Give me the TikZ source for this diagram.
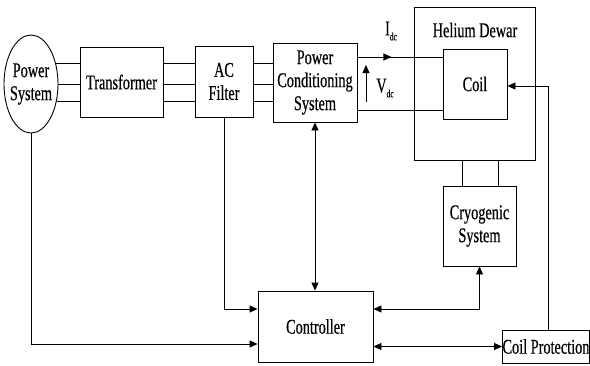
\documentclass[tikz,border=0pt]{standalone}
\usepackage{fontspec}
\setmainfont[FakeStretch=0.68,FakeBold=0.4]{Liberation Serif}
\usetikzlibrary{arrows.meta,shapes.geometric,decorations.markings,calc}

\begin{document}
\begin{tikzpicture}[x=1pt,y=-1pt,line width=0.9pt,
   >={Triangle[length=8pt,width=7pt]},
   blk/.style={draw,rectangle,inner sep=0pt,align=center,font=\fontsize{21}{23}\selectfont},
   lbl/.style={inner sep=0pt,font=\fontsize{21}{23}\selectfont},
   midarrow/.style={postaction={decorate},decoration={markings,mark=at position 0.4 with {\arrow{>}}}}]
   \useasboundingbox (0,0) rectangle (590,365);

   \node[blk,ellipse,inner xsep=-5pt,minimum width=54pt,minimum height=98pt] (ps) at (31,84) {Power\\System};
   \node[blk,minimum width=83pt,minimum height=70pt] (tr) at (121.5,82) {Transformer};
   \node[blk,minimum width=58pt,minimum height=71pt] (acf) at (224,81.5) {AC\\Filter};
   \node[blk,minimum width=84pt,minimum height=79pt] (pcs) at (315,82.5) {Power\\Conditioning\\System};
   \node[blk,minimum width=121pt,minimum height=153pt] (hd) at (474.5,83.5) {};
   \node[lbl] (hdl) at (475,30) {Helium Dewar};
   \node[blk,minimum width=64pt,minimum height=70pt] (coil) at (475,84) {Coil};
   \node[blk,minimum width=73pt,minimum height=80pt] (cryo) at (479.5,226) {Cryogenic\\System};
   \node[blk,minimum width=115pt,minimum height=71pt] (ctrl) at (315.5,326.5) {Controller};
   \node[blk,minimum width=87pt,minimum height=33pt] (cp) at (546,346.5) {Coil Protection};

   \node[lbl] (idc) at (391,31) {I\raisebox{-5pt}{\fontsize{11}{11}\selectfont dc}};
   \node[lbl] (vdc) at (385,88) {V\raisebox{-5pt}{\fontsize{11}{11}\selectfont dc}};

   \foreach \a in {39,0,-34} {
     \draw (ps.\a) -- (ps.\a -| tr.west);
     \draw (tr.east |- ps.\a) -- (ps.\a -| acf.west);
     \draw (acf.east |- ps.\a) -- (ps.\a -| pcs.west);
   }

   \coordinate (pi) at ($(pcs.east)+(0,-25.5)$);
   \coordinate (po) at ($(pcs.east)+(0,27.5)$);
   \draw[midarrow] (pi) -- (pi -| coil.west);
   \draw (po) -- (po -| coil.west);

   \coordinate (v0) at (366,102);
   \coordinate (v1) at (366,65);
   \draw[->] (v0) -- (v1);

   \coordinate (c1) at ($(cryo.north)+(-17.5,0)$);
   \coordinate (c2) at ($(cryo.north)+(18.5,0)$);
   \draw (c1) -- (c1 |- hd.south);
   \draw (c2) -- (c2 |- hd.south);

   \draw[->] (ps.south) |- ($(ctrl.west)+(0,17.5)$);
   \draw[->] (acf.south) |- ($(ctrl.west)+(0,-17.5)$);
   \draw[<->] (pcs.south) -- (pcs.south |- ctrl.north);
   \draw[<->] ($(ctrl.east)+(0,-17.5)$) -| (cryo.south);
   \draw[<->] (ctrl.east |- cp.west) -- (cp.west);
   \draw[->] ($(cp.north)+(2,0)$) |- ($(coil.east)+(0,2)$);
\end{tikzpicture}
\end{document}
